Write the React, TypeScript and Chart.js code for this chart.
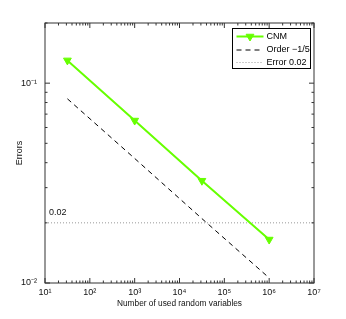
import React, { useEffect, useRef } from 'react';
import { Chart, registerables } from 'chart.js';
Chart.register(...registerables);

const cnmX = [31.62, 1000, 31623, 1000000];
const cnmY = [0.13, 0.065, 0.0325, 0.0165];
const orderX = [31.62, 1000, 31623, 1000000];
const orderY = [0.0835, 0.042, 0.021, 0.0106];
const errX = [10, 10000000];
const errY = [0.02, 0.02];
const xTickValues = [1e1, 1e2, 1e3, 1e4, 1e5, 1e6, 1e7];
const xTickLabels = ['10¹', '10²', '10³', '10⁴', '10⁵', '10⁶', '10⁷'];
const yTickValues = [0.01, 0.1];
const yTickLabels = ['10⁻²', '10⁻¹'];
const seriesLabels = ['CNM', 'Order −1/5', 'Error 0.02'];
const xTitle = 'Number of used random variables';
const yTitle = 'Errors';
const noteText = '0.02';
const noteX = 12.3;
const noteY = 0.02;

const FONT = '"Liberation Sans", Arial, sans-serif';
const GREEN = 'rgb(102,255,0)';

const toPts = (xs: number[], ys: number[]) => xs.map((x, i) => ({ x, y: ys[i] }));

function minorValues(min: number, max: number): { v: number; major: boolean }[] {
  const out: { v: number; major: boolean }[] = [];
  const e0 = Math.floor(Math.log10(min));
  const e1 = Math.ceil(Math.log10(max));
  for (let e = e0; e <= e1; e++) {
    for (let k = 1; k <= 9; k++) {
      const v = k * Math.pow(10, e);
      if (v >= min * 0.9999 && v <= max * 1.0001) out.push({ v, major: k === 1 });
    }
  }
  return out;
}

const framePlugin = {
  id: 'frame',
  afterDatasetsDraw(chart: any) {
    const ctx = chart.ctx;
    const { left, right, top, bottom } = chart.chartArea;
    const xs = chart.scales.x;
    const ys = chart.scales.y;
    ctx.save();
    ctx.strokeStyle = '#333';
    ctx.lineWidth = 1;
    ctx.setLineDash([]);
    ctx.strokeRect(left, top, right - left, bottom - top);
    ctx.beginPath();
    for (const t of minorValues(xs.min, xs.max)) {
      const px = xs.getPixelForValue(t.v);
      const len = t.major ? 5 : 2.5;
      ctx.moveTo(px, bottom);
      ctx.lineTo(px, bottom - len);
      ctx.moveTo(px, top);
      ctx.lineTo(px, top + len);
    }
    for (const t of minorValues(ys.min, ys.max)) {
      const py = ys.getPixelForValue(t.v);
      const len = t.major ? 5 : 2.5;
      ctx.moveTo(left, py);
      ctx.lineTo(left + len, py);
      ctx.moveTo(right, py);
      ctx.lineTo(right - len, py);
    }
    ctx.stroke();

    ctx.fillStyle = '#111';
    ctx.font = `9px ${FONT}`;
    ctx.textAlign = 'left';
    ctx.textBaseline = 'bottom';
    ctx.fillText(noteText, xs.getPixelForValue(noteX), ys.getPixelForValue(noteY) - 6);

    const bx = right - 81.5;
    const by = top + 5.5;
    const bw = 78;
    const bh = 40;
    ctx.fillStyle = '#fff';
    ctx.fillRect(bx, by, bw, bh);
    ctx.strokeStyle = '#000';
    ctx.lineWidth = 1;
    ctx.strokeRect(bx, by, bw, bh);
    const rows = [by + 8, by + 21.5, by + 34];
    chart.data.datasets.forEach((ds: any, i: number) => {
      const y = rows[i];
      const x0 = bx + 4;
      const x1 = bx + 31;
      ctx.save();
      ctx.strokeStyle = ds.borderColor;
      ctx.lineWidth = ds.borderWidth;
      ctx.setLineDash(ds.borderDash || []);
      ctx.beginPath();
      ctx.moveTo(x0, y);
      ctx.lineTo(x1, y);
      ctx.stroke();
      ctx.restore();
      if (ds.pointRadius > 0) {
        ctx.save();
        ctx.fillStyle = ds.pointBackgroundColor;
        ctx.strokeStyle = ds.pointBorderColor;
        ctx.lineWidth = 1;
        const r = ds.pointRadius;
        const cx = (x0 + x1) / 2;
        ctx.beginPath();
        ctx.moveTo(cx - r * 0.866, y - r / 2);
        ctx.lineTo(cx + r * 0.866, y - r / 2);
        ctx.lineTo(cx, y + r);
        ctx.closePath();
        ctx.fill();
        ctx.stroke();
        ctx.restore();
      }
      ctx.fillStyle = '#000';
      ctx.font = `9px ${FONT}`;
      ctx.textAlign = 'left';
      ctx.textBaseline = 'middle';
      ctx.fillText(ds.label, bx + 34, y);
    });
    ctx.restore();
  },
};

export default function App() {
  const ref = useRef<HTMLCanvasElement | null>(null);
  useEffect(() => {
    document.body.style.margin = '0';
    const canvas = ref.current!;
    const chart = new Chart(canvas, {
      type: 'line',
      data: {
        datasets: [
          {
            label: seriesLabels[0],
            data: toPts(cnmX, cnmY),
            borderColor: GREEN,
            borderWidth: 2,
            pointStyle: 'triangle',
            rotation: 180,
            pointRadius: 4.5,
            pointBackgroundColor: GREEN,
            pointBorderColor: GREEN,
            pointBorderWidth: 1,
          } as any,
          {
            label: seriesLabels[1],
            data: toPts(orderX, orderY),
            borderColor: '#000',
            borderWidth: 1,
            borderDash: [5, 4],
            pointRadius: 0,
          },
          {
            label: seriesLabels[2],
            data: toPts(errX, errY),
            borderColor: '#999',
            borderWidth: 1,
            borderDash: [1, 2],
            pointRadius: 0,
          },
        ],
      },
      options: {
        animation: false,
        responsive: false,
        devicePixelRatio: 1,
        layout: { padding: { left: 0, right: 32, top: 23, bottom: 0 } },
        plugins: { legend: { display: false }, tooltip: { enabled: false } },
        scales: {
          x: {
            type: 'logarithmic',
            min: 10,
            max: 1e7,
            grid: { display: false, drawTicks: false },
            border: { display: false },
            afterBuildTicks: (s: any) => {
              s.ticks = xTickValues.map((v) => ({ value: v }));
            },
            afterFit: (s: any) => {
              s.height = 36;
            },
            ticks: {
              autoSkip: false,
              maxRotation: 0,
              padding: 4,
              color: '#111',
              font: { family: FONT, size: 9 },
              callback: (_v: any, i: number) => xTickLabels[i],
            },
            title: {
              display: true,
              text: xTitle,
              color: '#111',
              font: { family: FONT, size: 8.3 },
              padding: { top: 0, bottom: 10 },
            },
          },
          y: {
            type: 'logarithmic',
            min: 0.01,
            max: 0.2,
            grid: { display: false, drawTicks: false },
            border: { display: false },
            afterBuildTicks: (s: any) => {
              s.ticks = yTickValues.map((v) => ({ value: v }));
            },
            afterFit: (s: any) => {
              s.width = 45;
            },
            ticks: {
              autoSkip: false,
              padding: 8,
              color: '#111',
              font: { family: FONT, size: 9 },
              callback: (_v: any, i: number) => yTickLabels[i],
            },
            title: {
              display: true,
              text: yTitle,
              color: '#111',
              font: { family: FONT, size: 9 },
              padding: { top: 14, bottom: 0 },
            },
          },
        },
      },
      plugins: [framePlugin],
    });
    return () => chart.destroy();
  }, []);
  return <canvas ref={ref} width={346} height={319} style={{ display: 'block' }} />;
}
